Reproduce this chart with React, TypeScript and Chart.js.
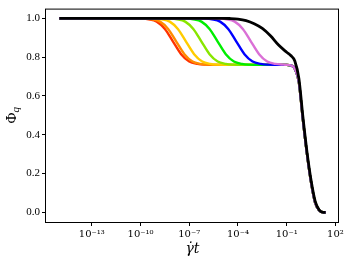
import React, { useEffect, useRef } from 'react';
import { Chart, registerables } from 'chart.js';

Chart.register(...registerables);

const FONT = "'Liberation Serif', 'DejaVu Serif', serif";
const XFONT = "'DejaVu Serif', 'Liberation Serif', serif";

const xTickExponents = [-13, -10, -7, -4, -1, 2];
const yTickValues = [0, 0.2, 0.4, 0.6, 0.8, 1.0];
const seriesNames = ['red', 'orange', 'gold', 'chartreuse', 'lime', 'blue', 'orchid', 'black'];
const seriesColors = ['#ff3300', '#ff8c00', '#ffcc00', '#88e600', '#00ee00', '#0000ff', '#da70d6', '#000000'];

// log10(γ̇t) and Φq values
const redLogT = [-15, -10.5, -10, -9.5, -9, -8.5, -8, -7.5, -7, -6.5, -6, -5.5];
const redPhi = [1, 1, 0.999, 0.995, 0.983, 0.945, 0.88, 0.815, 0.777, 0.765, 0.761, 0.76];
const orangeLogT = [-15, -10.3, -9.8, -9.3, -8.8, -8.3, -7.8, -7.3, -6.8, -6.3, -5.8, -5.3];
const orangePhi = [1, 1, 0.999, 0.995, 0.983, 0.945, 0.88, 0.815, 0.777, 0.765, 0.761, 0.76];
const goldLogT = [-15, -9.7, -9.2, -8.7, -8.2, -7.7, -7.2, -6.7, -6.2, -5.7, -5.2, -4.7];
const goldPhi = [1, 1, 0.999, 0.995, 0.983, 0.945, 0.88, 0.815, 0.777, 0.765, 0.761, 0.76];
const chartreuseLogT = [-15, -8.75, -8.25, -7.75, -7.25, -6.75, -6.25, -5.75, -5.25, -4.75, -4.25, -3.75];
const chartreusePhi = [1, 1, 0.999, 0.995, 0.983, 0.945, 0.88, 0.815, 0.777, 0.765, 0.761, 0.76];
const limeLogT = [-15, -7.75, -7.25, -6.75, -6.25, -5.75, -5.25, -4.75, -4.25, -3.75, -3.25, -2.75];
const limePhi = [1, 1, 0.999, 0.995, 0.983, 0.945, 0.88, 0.815, 0.777, 0.765, 0.761, 0.76];
const blueLogT = [-15, -6.6, -6.1, -5.6, -5.1, -4.6, -4.1, -3.6, -3.1, -2.6, -2.1, -1.6];
const bluePhi = [1, 1, 0.999, 0.995, 0.983, 0.945, 0.88, 0.815, 0.777, 0.765, 0.761, 0.76];
const orchidLogT = [-15, -5.7, -5.2, -4.7, -4.2, -3.7, -3.2, -2.7, -2.2, -1.7, -1.2];
const orchidPhi = [1, 1, 0.999, 0.995, 0.983, 0.945, 0.88, 0.815, 0.777, 0.765, 0.761];
// common final decay shared by the coloured curves
const tailLogT = [-1, -0.75, -0.5, -0.25, 0, 0.25, 0.5, 0.75, 1, 1.25, 1.4];
const tailPhi = [0.76, 0.757, 0.74, 0.67, 0.475, 0.3, 0.155, 0.05, 0.01, 0, 0];
const blackLogT = [-15, -5, -4.5, -4, -3.5, -3, -2.5, -2, -1.5, -1, -0.75, -0.5, -0.25, 0, 0.25, 0.5, 0.75, 1, 1.25, 1.4];
const blackPhi = [1, 1, 0.999, 0.996, 0.988, 0.972, 0.948, 0.91, 0.862, 0.825, 0.808, 0.78, 0.69, 0.49, 0.31, 0.165, 0.058, 0.012, 0, 0];

const stepLogT = [redLogT, orangeLogT, goldLogT, chartreuseLogT, limeLogT, blueLogT, orchidLogT];
const stepPhi = [redPhi, orangePhi, goldPhi, chartreusePhi, limePhi, bluePhi, orchidPhi];

const SUP: Record<string, string> = {
  '-': '\u207B', '0': '\u2070', '1': '\u00B9', '2': '\u00B2', '3': '\u00B3',
  '4': '\u2074', '5': '\u2075', '6': '\u2076', '7': '\u2077', '8': '\u2078', '9': '\u2079',
};
const supText = (n: number) => String(n).split('').map((c) => SUP[c] ?? c).join('');

function toPoints(logT: number[], phi: number[]) {
  return logT.map((l, i) => ({ x: Math.pow(10, l), y: phi[i] }));
}

const framePlugin = {
  id: 'frameAndYTitle',
  afterDatasetsDraw(chart: any) {
    const { ctx, chartArea } = chart;
    ctx.save();
    ctx.strokeStyle = '#000';
    ctx.lineWidth = 1;
    ctx.strokeRect(chartArea.left - 0.5, chartArea.top + 0.5, chartArea.right - chartArea.left, chartArea.bottom - chartArea.top);
    ctx.restore();
  },
  afterDraw(chart: any) {
    const { ctx, chartArea } = chart;
    const cy = (chartArea.top + chartArea.bottom) / 2;
    ctx.save();
    ctx.translate(16, cy);
    ctx.rotate(-Math.PI / 2);
    ctx.fillStyle = '#000';
    ctx.textBaseline = 'alphabetic';
    ctx.font = `15px ${FONT}`;
    const wPhi = ctx.measureText('\u03A6').width;
    ctx.font = `italic 11px ${FONT}`;
    const wQ = ctx.measureText('q').width;
    const x0 = -(wPhi + wQ) / 2;
    ctx.font = `15px ${FONT}`;
    ctx.textAlign = 'left';
    ctx.fillText('\u03A6', x0, 0);
    ctx.font = `italic 11px ${FONT}`;
    ctx.fillText('q', x0 + wPhi, 3);
    ctx.restore();
  },
};

export default function App() {
  const ref = useRef<HTMLCanvasElement | null>(null);

  useEffect(() => {
    if (!ref.current) return;
    const datasets: any[] = stepLogT.map((lt, i) => ({
      label: seriesNames[i],
      data: toPoints([...lt, ...tailLogT], [...stepPhi[i], ...tailPhi]),
      borderColor: seriesColors[i],
      borderWidth: 2.4,
      pointRadius: 0,
      cubicInterpolationMode: 'monotone',
      fill: false,
      order: 10 - i,
    }));
    datasets.push({
      label: seriesNames[7],
      data: toPoints(blackLogT, blackPhi),
      borderColor: seriesColors[7],
      borderWidth: 2.8,
      pointRadius: 0,
      cubicInterpolationMode: 'monotone',
      fill: false,
      order: 0,
    });

    const chart = new Chart(ref.current, {
      type: 'line',
      data: { datasets },
      options: {
        responsive: false,
        animation: false,
        layout: { padding: { top: 8, right: 13, left: 0, bottom: 0 } },
        plugins: { legend: { display: false }, tooltip: { enabled: false } },
        scales: {
          x: {
            type: 'logarithmic',
            min: Math.pow(10, -15.82),
            max: Math.pow(10, 2.22),
            afterBuildTicks: (scale: any) => {
              scale.ticks = xTickExponents.map((e) => ({ value: Math.pow(10, e) }));
            },
            afterFit: (scale: any) => {
              scale.height = 42;
            },
            ticks: {
              autoSkip: false,
              maxRotation: 0,
              padding: 2,
              color: '#000',
              font: { family: XFONT, size: 10 },
              callback: (v: any) => '10' + supText(Math.round(Math.log10(Number(v)))),
            },
            grid: { drawOnChartArea: false, drawTicks: true, tickLength: 4, tickColor: '#000' },
            border: { display: false },
            title: {
              display: true,
              text: '\u03B3\u0307t',
              color: '#000',
              font: { family: XFONT, size: 14, style: 'italic' },
              padding: { top: 0, bottom: 6 },
            },
          },
          y: {
            type: 'linear',
            min: -0.05,
            max: 1.05,
            afterBuildTicks: (scale: any) => {
              scale.ticks = yTickValues.map((v) => ({ value: v }));
            },
            afterFit: (scale: any) => {
              scale.width = 46;
            },
            ticks: {
              padding: 2,
              color: '#000',
              font: { family: FONT, size: 11 },
              callback: (v: any) => Number(v).toFixed(1),
            },
            grid: { drawOnChartArea: false, drawTicks: true, tickLength: 4, tickColor: '#000' },
            border: { display: false },
          },
        },
      },
      plugins: [framePlugin],
    });
    return () => chart.destroy();
  }, []);

  return (
    <div style={{ position: 'fixed', left: 0, top: 0, width: 352, height: 264, background: '#fff' }}>
      <canvas ref={ref} width={352} height={264} style={{ display: 'block' }} />
    </div>
  );
}
